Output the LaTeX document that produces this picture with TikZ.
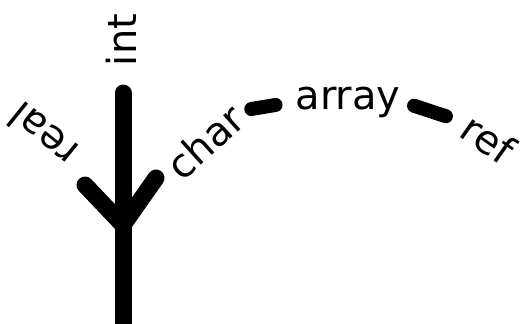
\documentclass[tikz,border=0pt]{standalone}
\usepackage{fontspec}
\setmainfont{DejaVu Sans}
\usetikzlibrary{positioning}
\tikzset{
  stem/.style={line width=17pt, line cap=round, line join=round},
  blob/.style={line width=14pt, line cap=round}
}

\begin{document}
\begin{tikzpicture}[x=1pt, y=-1pt, every node/.style={font=\fontsize{40}{48}\selectfont, inner sep=2pt}]
        \useasboundingbox (0,0) rectangle (523,324);

        % the fork
        \coordinate (top) at (123,93);
        \coordinate (foot) at (123,324);
        \coordinate (fork) at (123,225);
        \coordinate (lefttip) at (85,185);
        \coordinate (righttip) at (156,178);
        \draw[stem] (top) -- (foot);
        \draw[stem] (lefttip) -- (fork) -- (righttip);

        % type labels
        \node[rotate=90] (int) at (121,40) {int};
        \node[rotate=141] (real) at (43,135) {real};
        \node[rotate=42] (char) at (205,142) {char};
        \node (array) at (348,102) {array};
        \node[rotate=-35] (ref) at (488,139) {ref};

        % short strokes between the labels
        \draw[blob, shorten <=12pt, shorten >=18pt] (char.east) -- (array.west);
        \draw[blob, shorten <=12pt, shorten >=19pt] (array.east) -- (ref.west);
      \end{tikzpicture}
\end{document}
